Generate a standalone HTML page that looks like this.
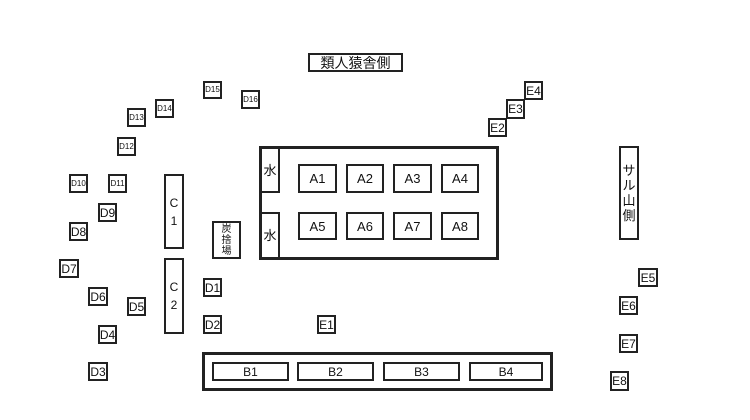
<!DOCTYPE html>
<html><head><meta charset="utf-8"><style>
body{margin:0;width:750px;height:420px;background:#fff;position:relative;overflow:hidden;font-family:"Liberation Sans","Noto Sans CJK JP",sans-serif;color:#111}
.b{position:absolute;box-sizing:border-box;border:2px solid #222;display:flex;align-items:center;justify-content:center;background:#fff;line-height:1}
.s{font-size:8px}.m{font-size:12px}.l{font-size:13px}
.k{border-width:3px;background:none}
.v{flex-direction:column;text-align:center}
</style></head><body>
<div class="b l" style="left:308px;top:53px;width:95px;height:19px;font-size:14px">類人猿舎側</div>
<div class="b s" style="left:203px;top:81px;width:19px;height:18px">D15</div>
<div class="b s" style="left:241px;top:90px;width:19px;height:19px">D16</div>
<div class="b s" style="left:155px;top:99px;width:19px;height:19px">D14</div>
<div class="b s" style="left:127px;top:108px;width:19px;height:19px">D13</div>
<div class="b s" style="left:117px;top:137px;width:19px;height:19px">D12</div>
<div class="b s" style="left:69px;top:174px;width:19px;height:19px">D10</div>
<div class="b s" style="left:108px;top:174px;width:19px;height:19px">D11</div>
<div class="b m" style="left:98px;top:203px;width:19px;height:19px">D9</div>
<div class="b m" style="left:69px;top:222px;width:19px;height:19px">D8</div>
<div class="b m" style="left:59px;top:259px;width:20px;height:19px">D7</div>
<div class="b m" style="left:88px;top:287px;width:20px;height:19px">D6</div>
<div class="b m" style="left:127px;top:297px;width:19px;height:19px">D5</div>
<div class="b m" style="left:98px;top:325px;width:19px;height:19px">D4</div>
<div class="b m" style="left:88px;top:362px;width:20px;height:19px">D3</div>
<div class="b m v" style="left:164px;top:174px;width:20px;height:75px;line-height:18px">C<br>1</div>
<div class="b m v" style="left:164px;top:258px;width:20px;height:76px;line-height:18px">C<br>2</div>
<div class="b v" style="left:212px;top:221px;width:29px;height:38px;font-size:10px;line-height:11px">炭<br>捨<br>場</div>
<div class="b m" style="left:203px;top:278px;width:19px;height:19px">D1</div>
<div class="b m" style="left:203px;top:315px;width:19px;height:19px">D2</div>
<div class="b m" style="left:317px;top:315px;width:19px;height:19px">E1</div>
<div class="b k" style="left:259px;top:146px;width:240px;height:114px"></div>
<div class="b l" style="left:259px;top:146px;width:21px;height:47px;border-width:3px 2px 2px 3px">水</div>
<div class="b l" style="left:259px;top:212px;width:21px;height:48px;border-width:2px 2px 3px 3px">水</div>
<div class="b l" style="left:298px;top:164px;width:39px;height:29px">A1</div>
<div class="b l" style="left:346px;top:164px;width:38px;height:29px">A2</div>
<div class="b l" style="left:393px;top:164px;width:39px;height:29px">A3</div>
<div class="b l" style="left:441px;top:164px;width:38px;height:29px">A4</div>
<div class="b l" style="left:298px;top:212px;width:39px;height:28px">A5</div>
<div class="b l" style="left:346px;top:212px;width:38px;height:28px">A6</div>
<div class="b l" style="left:393px;top:212px;width:39px;height:28px">A7</div>
<div class="b l" style="left:441px;top:212px;width:38px;height:28px">A8</div>
<div class="b m" style="left:524px;top:81px;width:19px;height:19px">E4</div>
<div class="b m" style="left:506px;top:99px;width:19px;height:20px">E3</div>
<div class="b m" style="left:488px;top:118px;width:19px;height:19px">E2</div>
<div class="b v" style="left:619px;top:146px;width:20px;height:94px;font-size:13px;line-height:15px">サ<br>ル<br>山<br>側</div>
<div class="b m" style="left:638px;top:268px;width:20px;height:19px">E5</div>
<div class="b m" style="left:619px;top:296px;width:19px;height:19px">E6</div>
<div class="b m" style="left:619px;top:334px;width:19px;height:19px">E7</div>
<div class="b m" style="left:610px;top:371px;width:19px;height:20px">E8</div>
<div class="b k" style="left:202px;top:352px;width:351px;height:39px"></div>
<div class="b m" style="left:212px;top:362px;width:77px;height:19px">B1</div>
<div class="b m" style="left:297px;top:362px;width:77px;height:19px">B2</div>
<div class="b m" style="left:383px;top:362px;width:77px;height:19px">B3</div>
<div class="b m" style="left:469px;top:362px;width:74px;height:19px">B4</div>
</body></html>
